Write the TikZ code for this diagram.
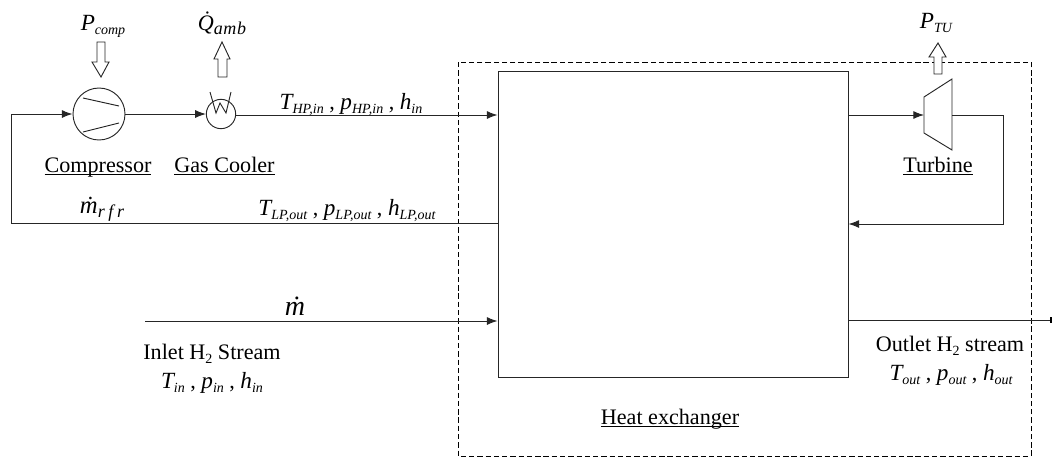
\documentclass[tikz,border=0pt]{standalone}
\usepackage{fontspec}
\setmainfont{Liberation Serif}
\usetikzlibrary{arrows.meta}
\newcommand{\lsub}[2]{\textit{{\fontsize{17.4pt}{19pt}\selectfont #1}\raisebox{-0.22em}{\fontsize{10.5pt}{11pt}\selectfont #2}}}
\newcommand{\hsub}{\raisebox{-0.22em}{\fontsize{10.5pt}{11pt}\selectfont 2}}
\newcommand{\dsub}[3]{\textit{#1\raisebox{-0.2em}{\fontsize{13.5pt}{14pt}\selectfont\addfontfeature{LetterSpace=#3}#2}}}
\newcommand{\ulab}[1]{\setbox0\hbox{#1}\rlap{\rule[-2.4pt]{\wd0}{0.8pt}}\box0}
\tikzset{
  x=0.75pt,y=-0.75pt,
  line/.style={draw=black!85,line width=0.7pt},
  flow/.style={line,-{Latex[length=8pt,width=6pt]}},
  blockarrow/.style={draw=black!85,line width=0.7pt,fill=white,line join=miter},
  lbl/.style={inner sep=0pt,anchor=base,font=\fontsize{16.6pt}{19pt}\selectfont},
  unit/.style={draw=black!85,line width=0.7pt,circle,inner sep=0pt,minimum size=#1,fill=white},
  hxbox/.style={draw=black!85,line width=0.7pt,inner sep=0pt,minimum width=262.5pt,minimum height=229.5pt},
}
\begin{document}
\begin{tikzpicture}
\useasboundingbox (0,0) rectangle (1052,458);
% dashed boundary
\draw[black,line width=0.6pt,dash pattern=on 4pt off 2.2pt] (458,62) rectangle (1031,456);
% units
\node[hxbox] (hx) at (673,224) {};
\node[unit=39pt] (comp) at (99,114) {};
\node[unit=22pt] (cool) at (221,114) {};
\coordinate (tuin) at (924,115);
\coordinate (tuout) at (952,115);
\coordinate (retcorner) at (1003,224);
\coordinate (retin) at (hx.east |- retcorner);
\coordinate (hxin1) at (hx.west |- 0,115);
\coordinate (hxout1) at (hx.east |- tuin);
\coordinate (hxlp) at (hx.west |- 0,223);
\coordinate (loop) at (11,114);
\coordinate (loopb) at (11,223);
\coordinate (inl) at (145,321);
\coordinate (hxin2) at (hx.west |- inl);
\coordinate (outl) at (1051,320);
\coordinate (hxout2) at (hx.east |- outl);
% compressor blades
\draw[line] (83,98) -- (119,106) (83,132) -- (119,123);
% cooler coil
\draw[line] (210,92) -- (216,113) -- (220,103) -- (226,113) -- (231,92);
% turbine
\draw[line] (924,97) -- (952,79) -- (952,150) -- (924,133) -- cycle;
% connectors
\draw[flow] (hxlp) -- (loopb) -- (loop) -- (comp.west);
\draw[flow] (comp.east) -- (cool.west);
\draw[flow] (cool.east |- 0,115) -- (hxin1);
\draw[flow] (hxout1) -- (tuin);
\draw[flow] (tuout) -- (1003,115) -- (retcorner) -- (retin);
\draw[flow] (inl) -- (hxin2);
\draw[line] (hxout2) -- (outl);
\draw[black,line width=1.5pt] (outl) ++(0,-3) -- ++(0,6);
% block arrows
\draw[blockarrow] (97,42) -- (105,42) -- (105,62) -- (109,62) -- (101,77) -- (92,62) -- (97,62) -- cycle;
\draw[blockarrow] (218,77) -- (227,77) -- (227,59) -- (230,59) -- (222,42) -- (214,59) -- (218,59) -- cycle;
\draw[blockarrow] (934,74) -- (942,74) -- (942,57) -- (946,57) -- (938,43) -- (929,57) -- (934,57) -- cycle;
% labels
\node[lbl] (pcomp) at (103,30) {\lsub{P}{comp}};
\node[lbl] (qamb) at (222,30) {\dsub{Q^^^^0307}{amb}{3}};
\node[lbl] (ptu) at (936,28) {\lsub{P}{TU}};
\node[lbl] (lcomp) at (98,172) {\ulab{Compressor}};
\node[lbl] (lcool) at (224.5,172) {\ulab{Gas Cooler}};
\node[lbl] (ltur) at (938,172) {\ulab{Turbine}};
\node[lbl] (thp) at (351,109) {\lsub{T}{HP,in} , \lsub{p}{HP,in} , \lsub{h}{in}};
\node[lbl] (mrfr) at (102,213) {\dsub{\fontsize{18.5pt}{19pt}\selectfont ṁ}{rfr}{20}};
\node[lbl] (tlp) at (347,215) {\lsub{T}{LP,out} , \lsub{p}{LP,out} , \lsub{h}{LP,out}};
\node[lbl] (mdot) at (295,315) {\textit{\fontsize{21pt}{22pt}\selectfont ṁ}};
\node[lbl] (linl) at (212,359) {Inlet H\hsub{} Stream};
\node[lbl] (tin) at (212,388) {\lsub{T}{in} , \lsub{p}{in} , \lsub{h}{in}};
\node[lbl] (lout) at (950,351) {Outlet H\hsub{} stream};
\node[lbl] (tout) at (951,380) {\lsub{T}{out} , \lsub{p}{out} , \lsub{h}{out}};
\node[lbl] (lhx) at (670,424) {\ulab{Heat exchanger}};
\end{tikzpicture}
\end{document}
